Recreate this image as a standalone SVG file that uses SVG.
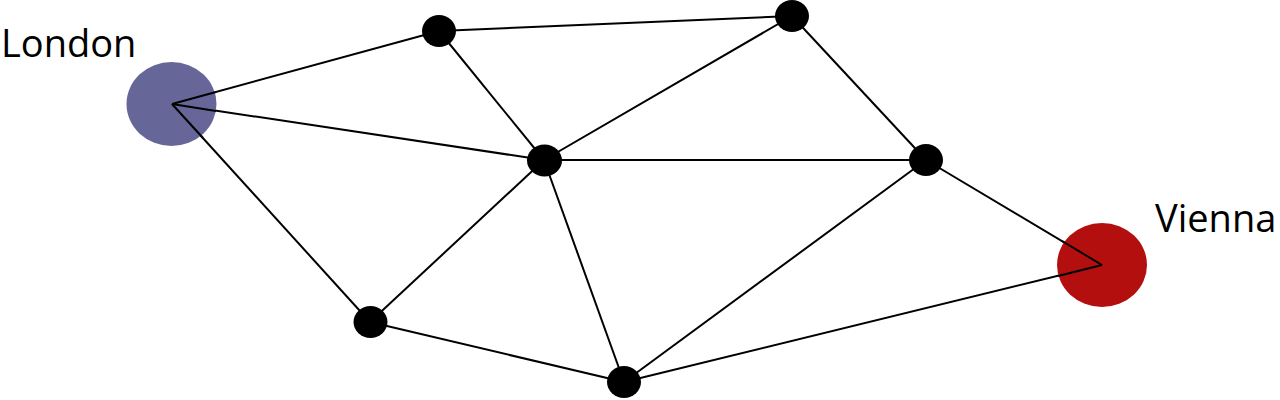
<svg xmlns="http://www.w3.org/2000/svg" width="1280" height="400" viewBox="0 0 1280 400">
<style>
.edge{stroke:#000;stroke-width:2;fill:none}
.dot{fill:#000}
.lbl{font-family:"Open Sans","Noto Sans",sans-serif;font-size:38px;fill:#000}
</style>
<rect width="1280" height="400" fill="#fff"/>
<g id="connectors">
<line class="edge" x1="172" y1="104" x2="439" y2="31"/>
<line class="edge" x1="172" y1="104" x2="544" y2="160"/>
<line class="edge" x1="172" y1="104" x2="370" y2="322"/>
<line class="edge" x1="439" y1="31" x2="792" y2="16"/>
<line class="edge" x1="439" y1="31" x2="544" y2="160"/>
<line class="edge" x1="792" y1="16" x2="544" y2="160"/>
<line class="edge" x1="792" y1="16" x2="926" y2="160"/>
<line class="edge" x1="544" y1="160" x2="926" y2="160"/>
<line class="edge" x1="544" y1="160" x2="370" y2="322"/>
<line class="edge" x1="544" y1="160" x2="624" y2="382"/>
<line class="edge" x1="926" y1="160" x2="624" y2="382"/>
<line class="edge" x1="926" y1="160" x2="1102" y2="265"/>
<line class="edge" x1="370" y1="322" x2="624" y2="382"/>
<line class="edge" x1="624" y1="382" x2="1102" y2="265"/>
</g>
<g id="london">
<ellipse cx="171.5" cy="104" rx="45" ry="42" fill="#666699"/>
<line class="edge" x1="172" y1="104" x2="216" y2="92"/>
<line class="edge" x1="172" y1="104" x2="216" y2="111"/>
<line class="edge" x1="172" y1="104" x2="203" y2="138"/>
<text class="lbl" x="1" y="57">London</text>
</g>
<g id="vienna">
<ellipse cx="1102" cy="265" rx="45" ry="42" fill="#b30f0f"/>
<line class="edge" x1="1102" y1="265" x2="1062" y2="241"/>
<line class="edge" x1="1102" y1="265" x2="1058" y2="276"/>
<text class="lbl" x="1155" y="232">Vienna</text>
</g>
<g id="n1"><ellipse class="dot" cx="439" cy="31" rx="17" ry="16"/></g>
<g id="n2"><ellipse class="dot" cx="792" cy="16" rx="17" ry="16"/></g>
<g id="n3"><ellipse class="dot" cx="544.5" cy="160.5" rx="17.5" ry="16"/></g>
<g id="n4"><ellipse class="dot" cx="926" cy="160" rx="17" ry="16"/></g>
<g id="n5"><ellipse class="dot" cx="370.5" cy="322" rx="17" ry="16"/></g>
<g id="n6"><ellipse class="dot" cx="624" cy="382" rx="17" ry="16"/></g>
</svg>
